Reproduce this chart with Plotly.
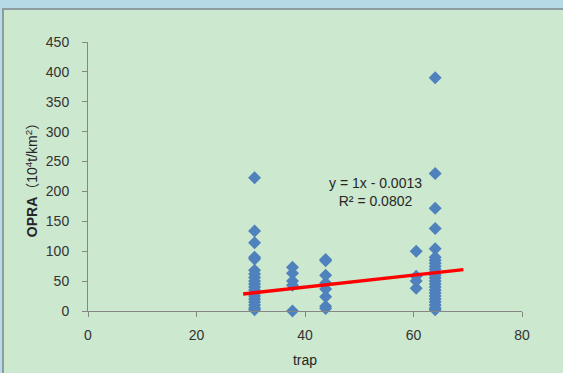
import plotly.graph_objects as go

# Data
x_c1 = [30.7] * 19
y_c1 = [223, 134, 114, 90, 87, 68, 62, 56, 50, 45, 40, 35, 30, 25, 20, 15, 10, 5, 2]
x_c2 = [37.7] * 5
y_c2 = [73, 63, 50, 43, 0]
x_c3 = [43.8] * 8
y_c3 = [86, 84, 60, 47, 37, 24, 8, 4]
x_c4 = [60.5] * 4
y_c4 = [100, 58, 50, 38]
x_c5 = [64.0] * 24
y_c5 = [390, 230, 172, 138, 104, 90, 85, 80, 75, 70, 65, 60, 55, 50, 45, 40, 35, 30, 25, 20, 15, 10, 5, 2]

xs = x_c1 + x_c2 + x_c3 + x_c4 + x_c5
ys = y_c1 + y_c2 + y_c3 + y_c4 + y_c5

trend_slope = 1.0
trend_intercept = -0.0013
trend_x = [28.6, 69.2]
trend_y = [trend_slope * v + trend_intercept for v in trend_x]

x_ticks = [0, 20, 40, 60, 80]
y_ticks = [0, 50, 100, 150, 200, 250, 300, 350, 400, 450]

W, H = 563, 373
L, R, T, B = 88, 41, 42, 62
pw, ph = W - L - R, H - T - B


def px2x(px):
    return (px - L) / pw


def py2y(py):
    return (H - B - py) / ph


FONT = "Liberation Sans, Arial"

fig = go.Figure()
fig.add_trace(go.Scatter(
    x=xs, y=ys, mode="markers",
    marker=dict(symbol="diamond", size=10, color="#4f81bd", line=dict(width=0)),
    showlegend=False, cliponaxis=False,
))
fig.add_trace(go.Scatter(
    x=trend_x, y=trend_y, mode="lines",
    line=dict(color="#ff0000", width=3.5),
    showlegend=False,
))

fig.add_annotation(
    xref="paper", yref="paper", x=px2x(375), y=py2y(192),
    text="y = 1x - 0.0013<br>R² = 0.0802", showarrow=False,
    font=dict(family=FONT, size=14, color="#262626"),
    align="center", xanchor="center", yanchor="middle",
)

fig.add_shape(
    type="rect", xref="paper", yref="paper", layer="below",
    x0=px2x(3), x1=px2x(W + 5), y0=py2y(9), y1=py2y(H + 5),
    fillcolor="#cce8cf", line=dict(color="#8f9c9f", width=2),
)

axis_common = dict(
    showgrid=False, zeroline=False, showline=True, linecolor="#868686", linewidth=1,
    ticks="outside", ticklen=5, tickcolor="#868686", tickwidth=1, automargin=False,
    tickfont=dict(family=FONT, size=14, color="#333333"),
)

fig.update_layout(
    width=W, height=H,
    margin=dict(l=L, r=R, t=T, b=B),
    paper_bgcolor="#b6dbe6",
    plot_bgcolor="rgba(0,0,0,0)",
    xaxis=dict(range=[0, 80], tickvals=x_ticks, ticklabelstandoff=6,
               title=dict(text="trap", standoff=13,
                          font=dict(family=FONT, size=14, color="#262626")),
               **axis_common),
    yaxis=dict(range=[0, 450], tickvals=y_ticks, ticklabelstandoff=10,
               title=dict(text="<b>OPRA</b>（10<sup>4</sup>t/km<sup>2</sup>）", standoff=4,
                          font=dict(family="Liberation Sans, Noto Sans CJK SC", size=14, color="#262626")),
               **axis_common),
)

fig.write_html("out.html")
